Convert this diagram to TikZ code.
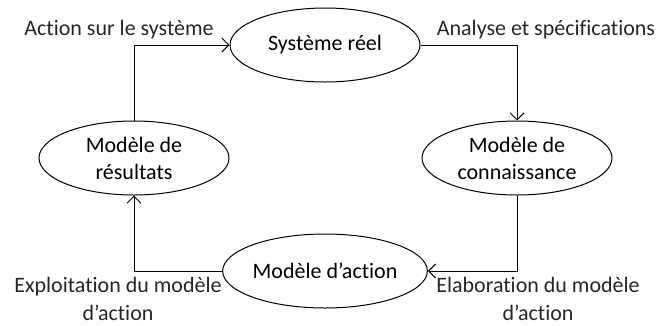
\documentclass[tikz,border=0pt]{standalone}
\usepackage{fontspec}
\setmainfont{Carlito}[Ligatures=NoCommon]
\usetikzlibrary{shapes.geometric,arrows.meta}
\begin{document}
\begin{tikzpicture}[x=1pt,y=-1pt,
  ell/.style={ellipse,draw,line width=1pt,minimum width=190pt,minimum height=74pt,inner sep=0pt,align=center,font=\fontsize{22}{27}\selectfont},
  lbl/.style={align=center,font=\fontsize{22}{28}\selectfont,text=black!85,inner sep=0pt},
  conn/.style={line width=1pt,-{Straight Barb[length=7pt,width=14pt,line width=1pt]}}]
\useasboundingbox (0,0) rectangle (660,325);
\node[ell] (sys) at (325,45) {Système réel};
\node[ell] (res) at (134,158) {Modèle de\\résultats};
\node[ell] (con) at (517,158) {Modèle de\\connaissance};
\node[ell] (act) at (325,271) {Modèle d’action};
\draw[conn] (res.north) |- (sys.west);
\draw[conn] (sys.east) -| (con.north);
\draw[conn] (con.south) |- (act.east);
\draw[conn] (act.west) -| (res.south);
\node[lbl] (l1) at (119,30) {Action sur le système};
\node[lbl] (l2) at (546,30) {Analyse et spécifications};
\node[lbl] (l3) at (118,299) {Exploitation du modèle\\d’action};
\node[lbl] (l4) at (538,299) {Elaboration du modèle\\d’action};
\end{tikzpicture}
\end{document}
